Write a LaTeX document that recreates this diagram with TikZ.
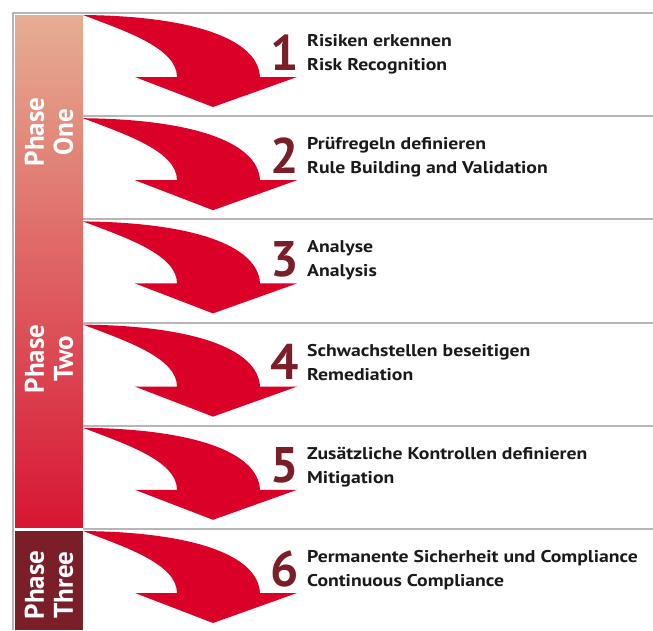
\documentclass[tikz,border=0pt]{standalone}
\usepackage{fontspec}
\setmainfont{PT Sans}
\newfontfamily\labelfont[FakeStretch=1.16]{PT Sans}
\definecolor{arrowred}{RGB}{218,0,40}
\definecolor{maroon}{RGB}{122,30,40}
\definecolor{gridgray}{RGB}{182,182,182}
\definecolor{bartop}{RGB}{229,174,146}
\definecolor{barbottom}{RGB}{215,22,52}
\definecolor{labeltext}{RGB}{26,26,26}
\tikzset{
  gridline/.style={draw=gridgray, line width=2pt},
  bigarrow/.style={fill=arrowred, draw=none},
  stepnum/.style={font=\bfseries\fontsize{50}{50}\selectfont, text=maroon, inner sep=0pt, anchor=base east},
  steplabel/.style={font=\labelfont\bfseries\fontsize{17}{24}\selectfont, text=labeltext, inner sep=0pt, align=left, anchor=base west},
  phaselabel/.style={font=\bfseries\fontsize{27}{29}\selectfont, text=white, rotate=90, align=center, inner sep=0pt}
}
\begin{document}
\begin{tikzpicture}[x=1pt, y=-1pt]
\useasboundingbox (0,0) rectangle (653,630);
\fill[white] (0,0) rectangle (653,630);
% left bars
\shade[top color=bartop, bottom color=barbottom] (15,15) rectangle (83,527);
\fill[maroon] (15,531) rectangle (83,630);
% grid lines
\draw[gridline] (13,13) -- (653,13);
\draw[gridline] (13,12) -- (13,630);
\foreach \yo in {116.2,219.4,322.6,425.8,529} {
  \draw[gridline] (83,\yo) -- (653,\yo);
}
% arrows, numbers, labels
\foreach \k/\yo/\de/\en in {
  1/13/{Risiken erkennen}/{Risk Recognition},
  2/116.2/{Prüfregeln definieren}/{Rule Building and Validation},
  3/219.4/{Analyse}/{Analysis},
  4/322.6/{Schwachstellen beseitigen}/{Remediation},
  5/425.8/{Zusätzliche Kontrollen definieren}/{Mitigation},
  6/529/{Permanente Sicherheit und Compliance}/{Continuous Compliance}} {
  \fill[bigarrow] (83,\yo+2) .. controls (190,\yo+3) and (258,\yo+25) .. (260,\yo+64)
    -- (297,\yo+64) -- (213,\yo+94) -- (135,\yo+64) -- (177,\yo+64)
    .. controls (177,\yo+35) and (125,\yo+18) .. (83,\yo+2) -- cycle;
  \node[stepnum] (num\k) at (299,\yo+57) {\k};
  \node[steplabel] (lab\k) at (307,\yo+57.5) {\de\\\en};
}
% phase labels
\node[phaselabel] (p1) at (49,132) {Phase\\One};
\node[phaselabel] (p2) at (49,359) {Phase\\Two};
\node[phaselabel] (p3) at (49,585) {Phase\\Three};
\end{tikzpicture}
\end{document}
